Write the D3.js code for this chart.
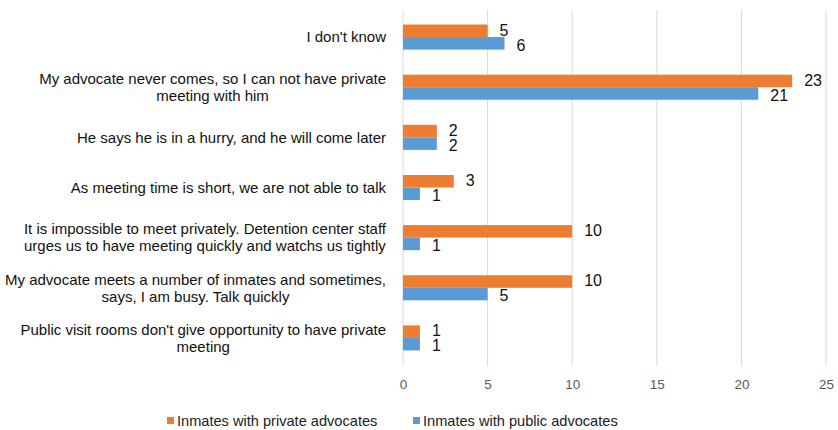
<!DOCTYPE html>
<html>
<head>
<meta charset="utf-8">
<script src="https://cdn.jsdelivr.net/npm/d3@7"></script>
<style>
  html, body { margin: 0; padding: 0; background: #fff; }
  svg { display: block; }
  text { font-family: "Liberation Sans", Arial, sans-serif; }
</style>
</head>
<body>
<svg id="chart" width="838" height="430"></svg>
<script>
const categories = [
  "I don't know",
  "My advocate never comes, so I can not have private\nmeeting with him",
  "He says he is in a hurry, and he will come later",
  "As meeting time is short, we are not able to talk",
  "It is impossible to meet privately. Detention center staff\nurges us to have meeting quickly and watchs us tightly",
  "My advocate meets a number of inmates and sometimes,\nsays, I am busy. Talk quickly",
  "Public visit rooms don't give opportunity to have private\nmeeting"
];
const privateValues = [5, 23, 2, 3, 10, 10, 1];
const publicValues = [6, 21, 2, 1, 1, 5, 1];
const seriesNames = ["Inmates with private advocates", "Inmates with public advocates"];
const seriesColors = ["#ED7D31", "#5B9BD5"];
const xTicks = [0, 5, 10, 15, 20, 25];

const svg = d3.select("#chart");
const x = d3.scaleLinear().domain([0, 25]).range([403, 826]);
const y = d3.scaleBand().domain(d3.range(categories.length)).range([12, 363]).paddingInner(0.5).paddingOuter(0.25);
const sub = d3.scaleBand().domain([0, 1]).range([0, y.bandwidth()]);

// gridlines
svg.append("g").selectAll("line").data(xTicks).join("line")
  .attr("x1", d => x(d)).attr("x2", d => x(d))
  .attr("y1", 10).attr("y2", 366)
  .attr("stroke", "#d9d9d9").attr("stroke-width", 1);

// x axis labels
const xAxis = d3.axisBottom(x).tickValues(xTicks).tickSize(0).tickPadding(0);
const gx = svg.append("g").attr("transform", "translate(0,379)").call(xAxis);
gx.select(".domain").remove();
gx.selectAll("text").attr("font-size", 13.5).attr("fill", "#595959")
  .style("font-family", "'Liberation Sans', Arial, sans-serif");

// bars
const data = categories.map((c, i) => ({ i, vals: [privateValues[i], publicValues[i]] }));
const groups = svg.append("g").selectAll("g").data(data).join("g")
  .attr("transform", d => `translate(0,${y(d.i)})`);
groups.selectAll("rect").data(d => d.vals.map((v, s) => ({ v, s }))).join("rect")
  .attr("x", x(0)).attr("y", d => sub(d.s))
  .attr("width", d => x(d.v) - x(0)).attr("height", sub.bandwidth())
  .attr("fill", d => seriesColors[d.s]);
groups.selectAll("text").data(d => d.vals.map((v, s) => ({ v, s }))).join("text")
  .attr("x", d => x(d.v) + 12)
  .attr("y", d => sub(d.s) + sub.bandwidth() / 2 + (d.s === 0 ? -1 : 1.5))
  .attr("dy", "0.36em")
  .attr("font-size", 16).attr("fill", "#111")
  .text(d => d.v);

// category labels
const labelRight = 386;
const lineH = 17;
categories.forEach((c, i) => {
  const lines = c.split("\n");
  const cy = y(i) + y.bandwidth() / 2;
  const g = svg.append("g");
  const texts = lines.map((ln, k) => g.append("text")
    .attr("font-size", 15).attr("fill", "#111")
    .attr("y", cy + (k - (lines.length - 1) / 2) * lineH)
    .attr("dy", "0.35em").text(ln));
  const widths = texts.map(t => t.node().getComputedTextLength());
  const maxW = d3.max(widths);
  texts.forEach(t => t.attr("text-anchor", "middle").attr("x", labelRight - maxW / 2));
});

// legend
const legendX = [167, 413];
seriesNames.forEach((n, s) => {
  svg.append("rect").attr("x", legendX[s]).attr("y", 417).attr("width", 7).attr("height", 7)
    .attr("fill", seriesColors[s]);
  svg.append("text").attr("x", legendX[s] + 10).attr("y", 421).attr("dy", "0.35em")
    .attr("font-size", 14.6).attr("fill", "#222").text(n);
});
</script>
</body>
</html>
